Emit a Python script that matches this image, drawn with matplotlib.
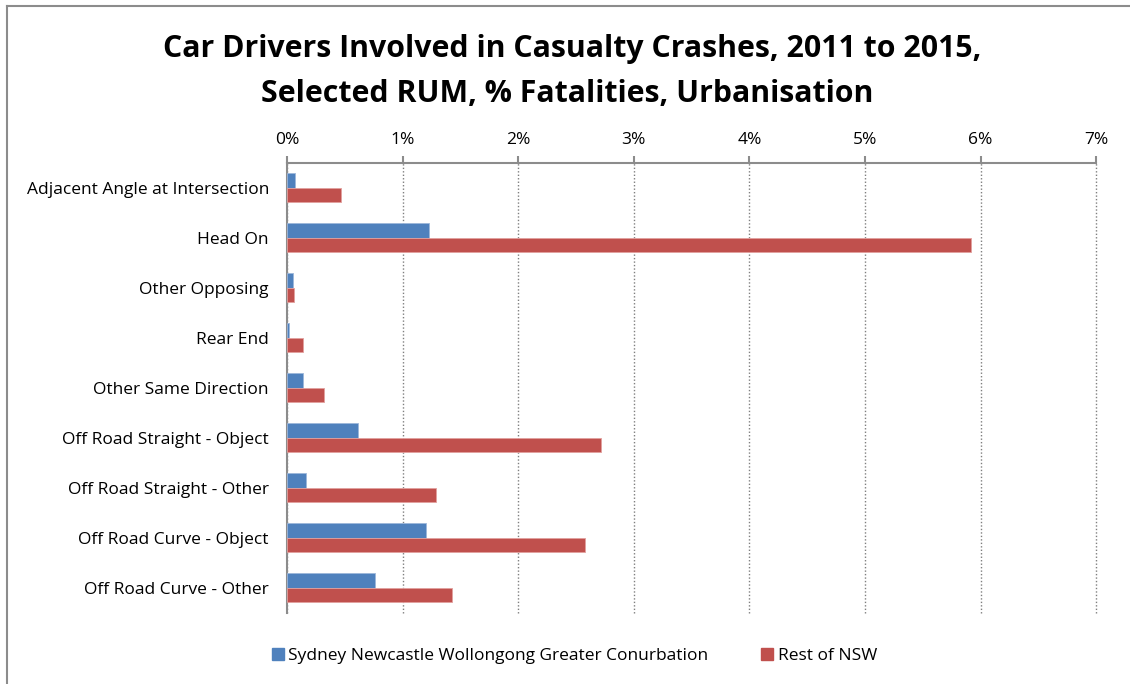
import matplotlib.pyplot as plt
from matplotlib.lines import Line2D
from matplotlib.ticker import FuncFormatter
import numpy as np

categories = [
    "Adjacent Angle at Intersection",
    "Head On",
    "Other Opposing",
    "Rear End",
    "Other Same Direction",
    "Off Road Straight - Object",
    "Off Road Straight - Other",
    "Off Road Curve - Object",
    "Off Road Curve - Other",
]
sydney = [0.07, 1.23, 0.05, 0.02, 0.14, 0.61, 0.16, 1.20, 0.76]
rest_nsw = [0.47, 5.92, 0.06, 0.14, 0.32, 2.72, 1.29, 2.58, 1.43]
series_names = ["Sydney Newcastle Wollongong Greater Conurbation", "Rest of NSW"]
x_ticks = [0, 1, 2, 3, 4, 5, 6, 7]

plt.rcParams["font.family"] = ["Open Sans", "DejaVu Sans"]

blue = "#4F81BD"
red = "#C0504D"

fig = plt.figure(figsize=(11.3, 6.84), dpi=100)
ax = fig.add_axes([0.254, 0.1038, 0.716, 0.658])

y = np.arange(len(categories))
h = 0.29
ax.barh(y - h / 2, sydney, height=h, color=blue, edgecolor="#9DB7DA", linewidth=0.6,
        label=series_names[0], zorder=3)
ax.barh(y + h / 2, rest_nsw, height=h, color=red, edgecolor="#E2A09E", linewidth=0.6,
        label=series_names[1], zorder=3)

ax.set_ylim(len(categories) - 0.5, -0.5)
ax.set_xlim(0, 7)
ax.set_yticks(y)
ax.set_yticklabels(categories, fontsize=12.5)
ax.set_xticks(x_ticks)
ax.xaxis.set_major_formatter(FuncFormatter(lambda v, p: f"{v:.0f}%"))
ax.xaxis.tick_top()
ax.tick_params(axis="x", labelsize=12.5, colors="#8C8C8C", labelcolor="black",
               direction="out", length=5, width=1.5, pad=6)
ax.tick_params(axis="y", length=0, pad=13, labelcolor="black")

ax.grid(axis="x", linestyle=(0, (1, 1.5)), color="#7F7F7F", linewidth=1, zorder=0)
for gl in ax.get_xgridlines():
    gl.set_clip_on(False)
for s in ["right", "bottom"]:
    ax.spines[s].set_visible(False)
ax.spines["top"].set_color("#8C8C8C")
ax.spines["top"].set_linewidth(1.5)
ax.spines["left"].set_color("#8C8C8C")
ax.spines["left"].set_linewidth(1.5)

fig.text(0.506, 0.928, "Car Drivers Involved in Casualty Crashes, 2011 to 2015,",
         ha="center", va="center", fontsize=21.8, fontweight="bold")
fig.text(0.502, 0.863, "Selected RUM, % Fatalities, Urbanisation",
         ha="center", va="center", fontsize=21.8, fontweight="bold")

handles = [
    Line2D([], [], marker="s", linestyle="none", markersize=9, color=blue),
    Line2D([], [], marker="s", linestyle="none", markersize=9, color=red),
]
fig.legend(handles, series_names, loc="center", bbox_to_anchor=(0.507, 0.041),
           ncol=2, frameon=False, fontsize=12.5, handletextpad=0.1,
           columnspacing=2.9, handlelength=1.0)

# chart border (top and left edges visible in the crop)
fig.add_artist(Line2D([7 / 1130, 1], [1 - 6 / 684, 1 - 6 / 684],
                      transform=fig.transFigure, color="#8C8C8C", linewidth=1.5))
fig.add_artist(Line2D([7 / 1130, 7 / 1130], [0, 1 - 6 / 684],
                      transform=fig.transFigure, color="#8C8C8C", linewidth=1.5))

fig.savefig("out.png", dpi=100)
